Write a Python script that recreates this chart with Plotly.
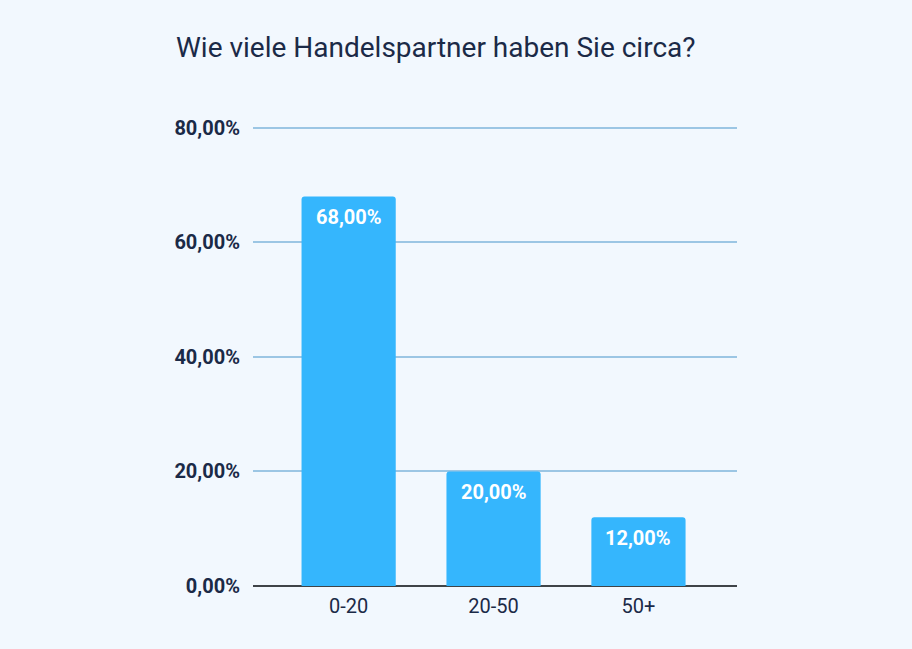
import plotly.graph_objects as go

categories = ["0-20", "20-50", "50+"]
values = [68.0, 20.0, 12.0]
y_ticks = [0, 20, 40, 60, 80]

title_text = "Wie viele Handelspartner haben Sie circa?"

def fmt(v):
    return f"{v:.2f}".replace(".", ",") + "%"

fig = go.Figure()
fig.add_trace(go.Bar(
    x=categories,
    y=values,
    marker=dict(color="#35B6FD", cornerradius=3, line=dict(width=0)),
    width=0.65,
    hoverinfo="skip",
))

annots = [dict(
    text=title_text, xref="paper", yref="paper",
    x=(436 - 253) / 484, y=1 + (122 - 48) / 464,
    xanchor="center", yanchor="middle", showarrow=False,
    font=dict(family="Roboto", size=28, color="#1B2A47"),
)]
for c, v in zip(categories, values):
    annots.append(dict(
        text=fmt(v), x=c, y=v, xref="x", yref="y",
        yanchor="middle", xanchor="center", yshift=-21,
        showarrow=False,
        font=dict(family="Roboto", size=20, color="white", weight="bold"),
    ))

fig.update_layout(
    width=912, height=649,
    margin=dict(l=253, r=175, t=122, b=63),
    paper_bgcolor="#F2F8FE",
    plot_bgcolor="#F2F8FE",
    separators=",.",
    showlegend=False,
    annotations=annots,
)
fig.update_xaxes(
    range=[-0.66, 2.68],
    showgrid=False, showline=False, zeroline=False,
    ticks="", ticklabelstandoff=6,
    tickfont=dict(family="Roboto", size=20, color="#1B2A47"),
)
fig.update_yaxes(
    range=[0, 81],
    tickvals=y_ticks,
    ticktext=[fmt(v) for v in y_ticks],
    showgrid=True, gridcolor="#9CC6E4", gridwidth=1.5,
    zeroline=True, zerolinecolor="#3F4448", zerolinewidth=2,
    showline=False, ticks="",
    ticklabelstandoff=12,
    tickfont=dict(family="Roboto", size=20, color="#1B2A47", weight="bold"),
)

fig.write_html("out.html")
